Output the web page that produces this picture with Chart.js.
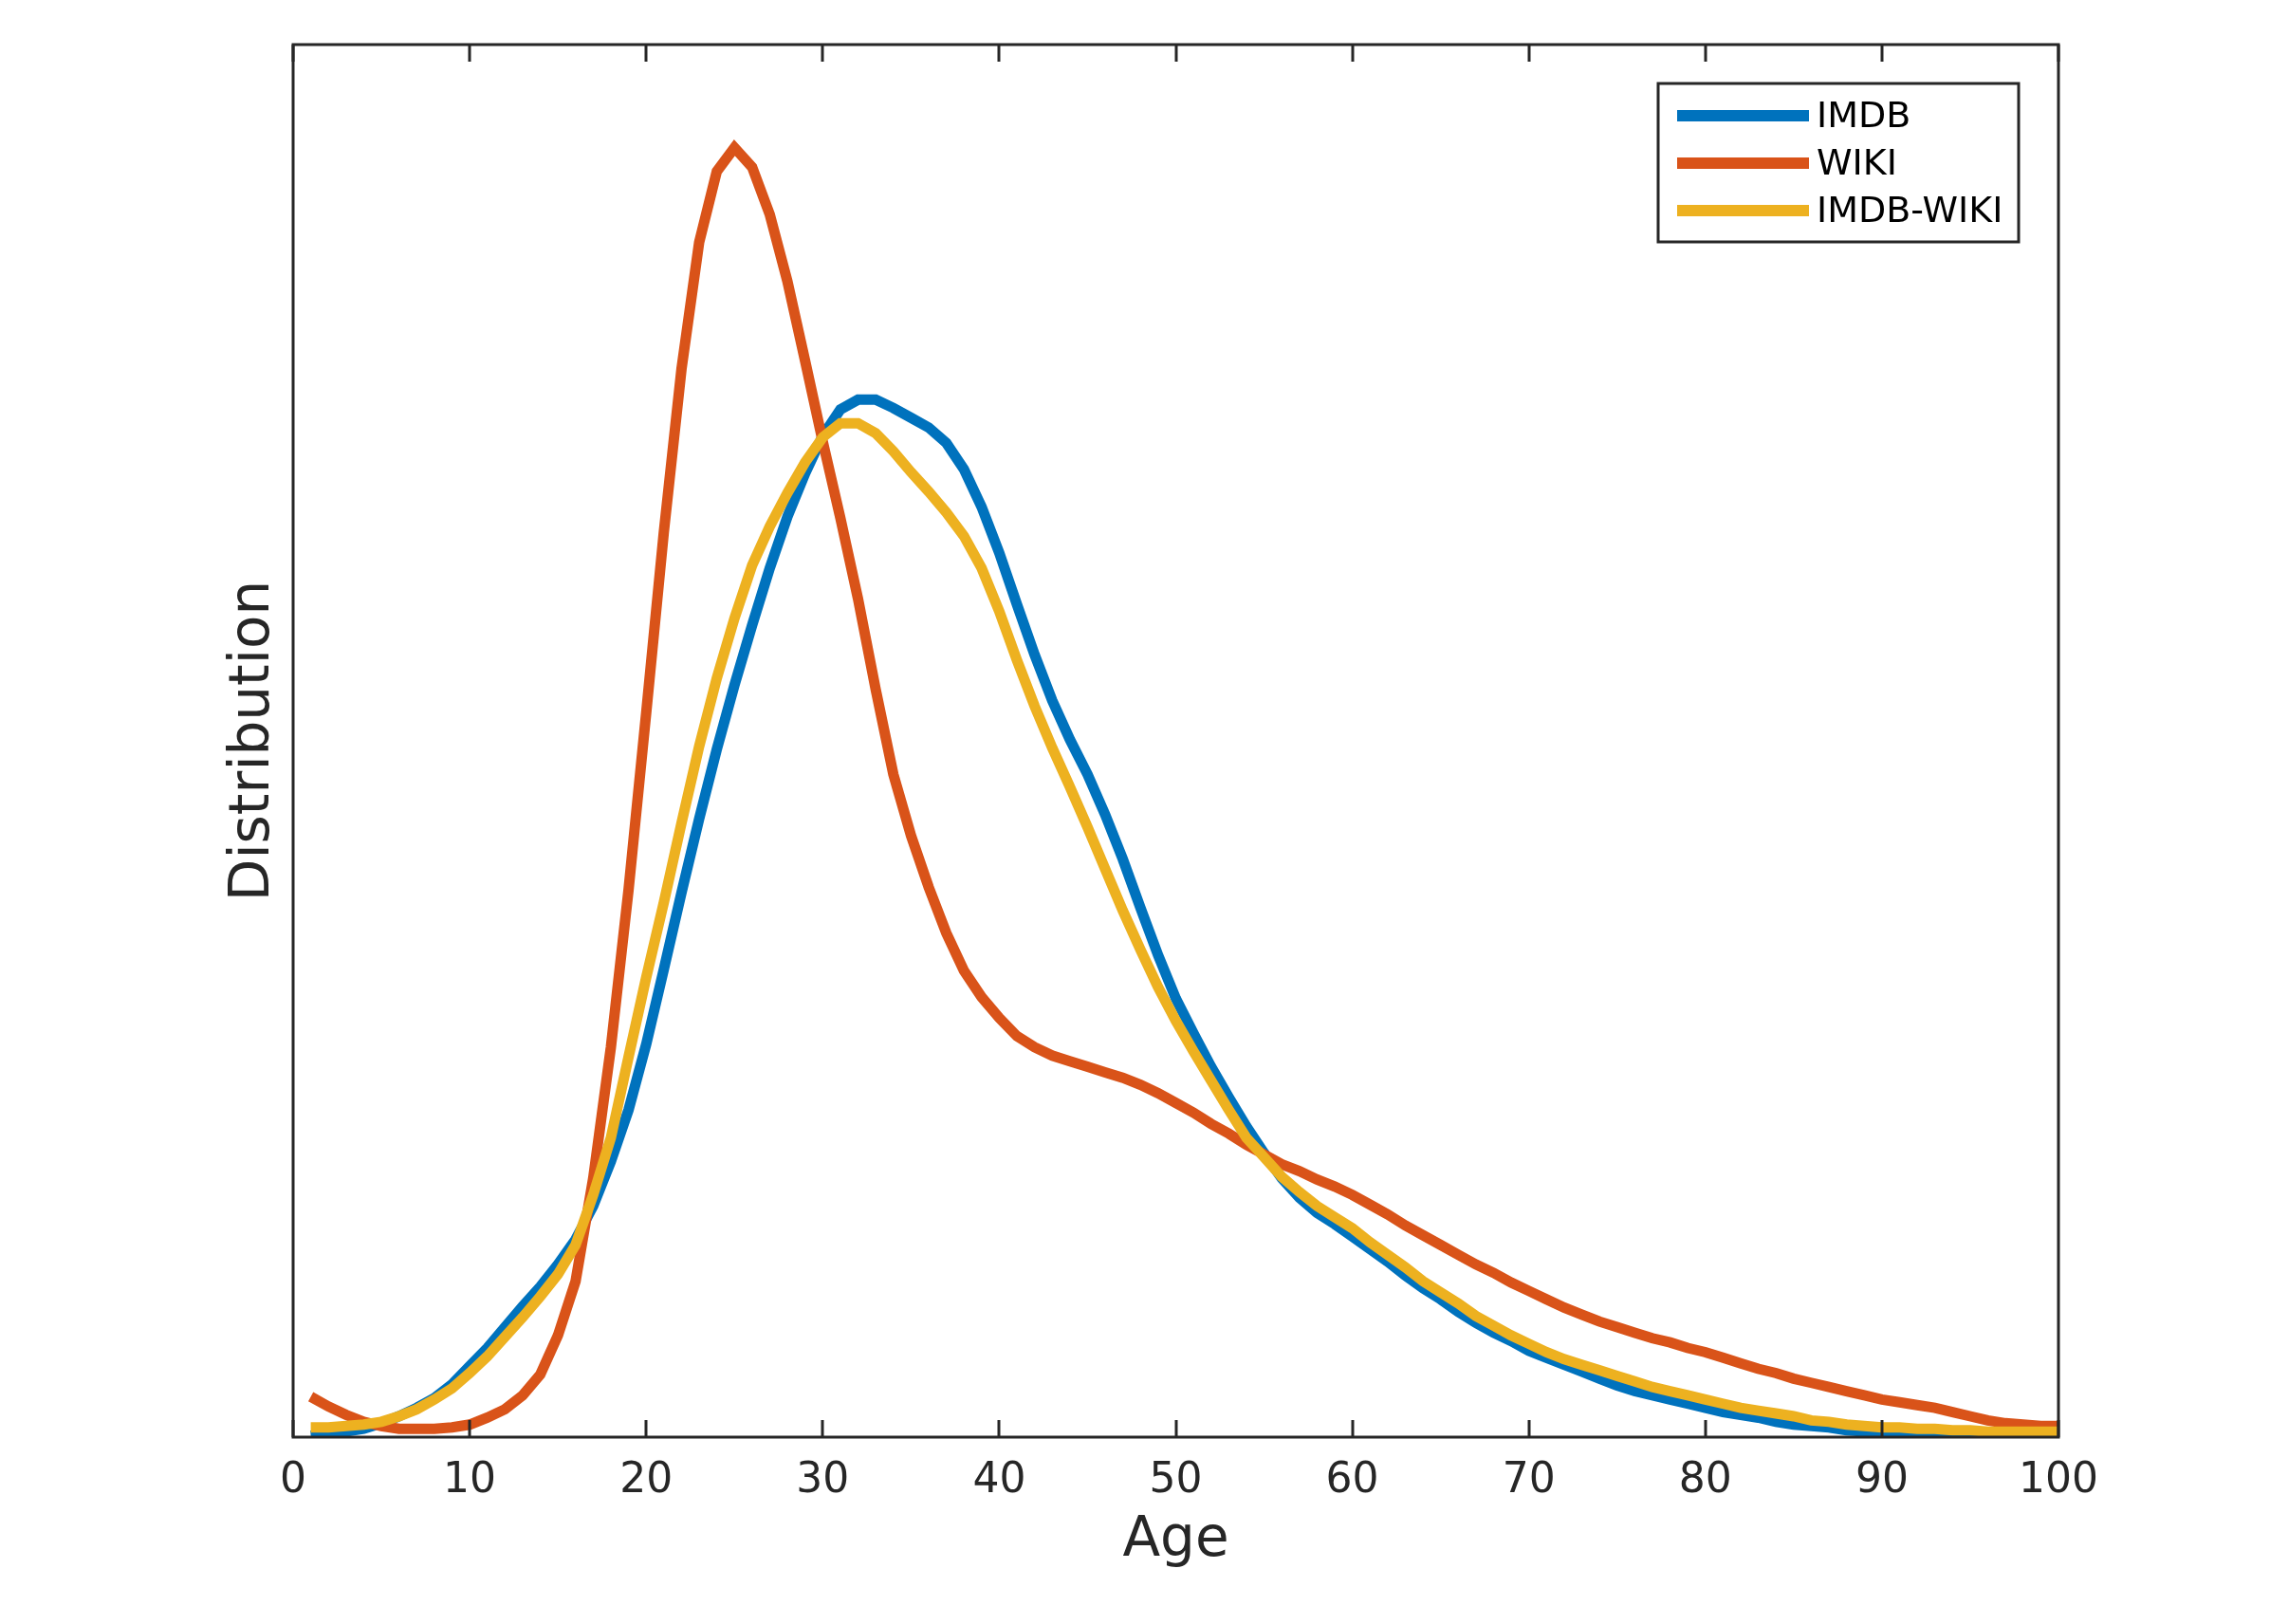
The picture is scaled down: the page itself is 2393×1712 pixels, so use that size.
<!DOCTYPE html>
<html>
<head>
<meta charset="utf-8">
<script src="https://cdn.jsdelivr.net/npm/chart.js@4.4.1/dist/chart.umd.min.js"></script>
<style>
  html, body { margin: 0; padding: 0; background: #ffffff; }
  #wrap { width: 2393px; height: 1712px; }
</style>
</head>
<body>
<div id="wrap"><canvas id="ageChart" width="2393" height="1712"></canvas></div>
<script>
// Ages on the x axis
const ages = [];
for (let a = 1; a <= 100; a++) ages.push(a);

// Series values (normalised, axis top = 1)
const imdb = [
  0.001, 0.002, 0.004, 0.006, 0.010, 0.015, 0.021, 0.028, 0.038, 0.051,
  0.064, 0.079, 0.094, 0.108, 0.124, 0.142, 0.166, 0.198, 0.235, 0.282,
  0.336, 0.391, 0.444, 0.494, 0.540, 0.583, 0.624, 0.661, 0.692, 0.719,
  0.738, 0.745, 0.745, 0.739, 0.732, 0.725, 0.714, 0.695, 0.668, 0.635,
  0.598, 0.562, 0.529, 0.501, 0.476, 0.447, 0.415, 0.380, 0.346, 0.315,
  0.290, 0.266, 0.244, 0.223, 0.204, 0.186, 0.172, 0.161, 0.153, 0.144,
  0.135, 0.126, 0.116, 0.107, 0.099, 0.090, 0.082, 0.075, 0.069, 0.062,
  0.057, 0.052, 0.047, 0.042, 0.037, 0.033, 0.030, 0.027, 0.024, 0.021,
  0.018, 0.016, 0.014, 0.011, 0.009, 0.008, 0.007, 0.005, 0.004, 0.003,
  0.003, 0.002, 0.002, 0.001, 0.001, 0.001, 0.001, 0.000, 0.000, 0.000
];
const wiki = [
  0.029, 0.022, 0.016, 0.011, 0.008, 0.006, 0.006, 0.006, 0.007, 0.009,
  0.014, 0.020, 0.030, 0.045, 0.073, 0.112, 0.186, 0.280, 0.393, 0.520,
  0.650, 0.767, 0.858, 0.909, 0.926, 0.912, 0.878, 0.830, 0.773, 0.715,
  0.660, 0.602, 0.537, 0.476, 0.432, 0.395, 0.362, 0.335, 0.316, 0.301,
  0.288, 0.280, 0.274, 0.270, 0.266, 0.262, 0.258, 0.253, 0.247, 0.240,
  0.233, 0.225, 0.218, 0.210, 0.203, 0.196, 0.191, 0.185, 0.180, 0.174,
  0.167, 0.160, 0.152, 0.145, 0.138, 0.131, 0.124, 0.118, 0.111, 0.105,
  0.099, 0.093, 0.088, 0.083, 0.079, 0.075, 0.071, 0.068, 0.064, 0.061,
  0.057, 0.053, 0.049, 0.046, 0.042, 0.039, 0.036, 0.033, 0.030, 0.027,
  0.025, 0.023, 0.021, 0.018, 0.015, 0.012, 0.010, 0.009, 0.008, 0.008
];
const imdbWiki = [
  0.007, 0.007, 0.008, 0.009, 0.011, 0.015, 0.020, 0.027, 0.035, 0.046,
  0.058, 0.072, 0.086, 0.101, 0.117, 0.138, 0.174, 0.215, 0.273, 0.330,
  0.384, 0.441, 0.496, 0.545, 0.588, 0.626, 0.654, 0.678, 0.700, 0.718,
  0.728, 0.728, 0.721, 0.708, 0.693, 0.679, 0.664, 0.647, 0.624, 0.593,
  0.558, 0.525, 0.495, 0.467, 0.438, 0.408, 0.378, 0.350, 0.323, 0.299,
  0.277, 0.256, 0.235, 0.215, 0.201, 0.187, 0.176, 0.166, 0.158, 0.150,
  0.140, 0.131, 0.122, 0.112, 0.104, 0.096, 0.087, 0.080, 0.073, 0.067,
  0.061, 0.056, 0.052, 0.048, 0.044, 0.040, 0.036, 0.033, 0.030, 0.027,
  0.024, 0.021, 0.019, 0.017, 0.015, 0.012, 0.011, 0.009, 0.008, 0.007,
  0.007, 0.006, 0.006, 0.005, 0.005, 0.004, 0.004, 0.004, 0.004, 0.004
];

// Tick labels along the x axis
const xTicks = [0, 10, 20, 30, 40, 50, 60, 70, 80, 90, 100];

const seriesNames = ['IMDB', 'WIKI', 'IMDB-WIKI'];
const seriesColors = ['#0072BD', '#D95319', '#EDB120'];

const axisColor = '#262626';
const fontFamily = '"DejaVu Sans", sans-serif';

function toPoints(values) {
  return ages.map((a, i) => ({ x: a, y: values[i] }));
}

// Draws the MATLAB style box, inward ticks, axis titles and legend
const matlabFrame = {
  id: 'matlabFrame',
  afterDraw(chart) {
    const ctx = chart.ctx;
    const area = chart.chartArea;
    const xs = chart.scales.x;

    ctx.save();
    ctx.strokeStyle = axisColor;
    ctx.lineWidth = 3;
    ctx.strokeRect(area.left, area.top, area.right - area.left, area.bottom - area.top);

    // inward tick marks on bottom and top
    ctx.beginPath();
    xTicks.forEach(function(t) {
      const px = Math.round(xs.getPixelForValue(t));
      ctx.moveTo(px, area.bottom);
      ctx.lineTo(px, area.bottom - 18);
      ctx.moveTo(px, area.top);
      ctx.lineTo(px, area.top + 18);
    });
    ctx.stroke();

    // axis titles
    ctx.fillStyle = axisColor;
    ctx.font = '58px ' + fontFamily;
    ctx.textAlign = 'center';
    ctx.textBaseline = 'alphabetic';
    ctx.fillText('Age', (area.left + area.right) / 2, 1640);

    ctx.save();
    ctx.translate(283, (area.top + area.bottom) / 2);
    ctx.rotate(-Math.PI / 2);
    ctx.fillText('Distribution', 0, 0);
    ctx.restore();

    // legend box
    const box = { left: 1748, top: 88, width: 380, height: 167 };
    ctx.fillStyle = '#ffffff';
    ctx.fillRect(box.left, box.top, box.width, box.height);
    ctx.lineWidth = 3;
    ctx.strokeStyle = axisColor;
    ctx.strokeRect(box.left, box.top, box.width, box.height);

    ctx.font = '38px ' + fontFamily;
    ctx.textAlign = 'left';
    ctx.textBaseline = 'middle';
    chart.data.datasets.forEach(function(ds, i) {
      const y = 122 + i * 50;
      ctx.strokeStyle = ds.borderColor;
      ctx.lineWidth = 12;
      ctx.beginPath();
      ctx.moveTo(1768, y);
      ctx.lineTo(1907, y);
      ctx.stroke();
      ctx.fillStyle = '#000000';
      ctx.fillText(ds.label, 1915, y + 2);
    });
    ctx.restore();
  }
};

const ctx = document.getElementById('ageChart').getContext('2d');
new Chart(ctx, {
  type: 'line',
  data: {
    datasets: [
      { label: seriesNames[0], data: toPoints(imdb), borderColor: seriesColors[0], order: 3 },
      { label: seriesNames[1], data: toPoints(wiki), borderColor: seriesColors[1], order: 2 },
      { label: seriesNames[2], data: toPoints(imdbWiki), borderColor: seriesColors[2], order: 1 }
    ]
  },
  options: {
    responsive: false,
    animation: false,
    devicePixelRatio: 1,
    layout: { padding: { left: 0, right: 223, top: 47, bottom: 0 } },
    elements: {
      line: { borderWidth: 11, tension: 0, fill: false },
      point: { radius: 0 }
    },
    plugins: {
      legend: { display: false },
      tooltip: { enabled: false }
    },
    scales: {
      x: {
        type: 'linear',
        min: 0,
        max: 100,
        grid: { display: false },
        border: { display: false },
        afterFit: function(scale) { scale.height = 197; },
        afterBuildTicks: function(scale) {
          scale.ticks = xTicks.map(function(v) { return { value: v }; });
        },
        ticks: {
          autoSkip: false,
          maxRotation: 0,
          padding: 12,
          color: axisColor,
          font: { family: fontFamily, size: 44 }
        }
      },
      y: {
        min: 0,
        max: 1,
        grid: { display: false },
        border: { display: false },
        ticks: { display: false },
        afterFit: function(scale) { scale.width = 309; }
      }
    }
  },
  plugins: [matlabFrame]
});
</script>
</body>
</html>
